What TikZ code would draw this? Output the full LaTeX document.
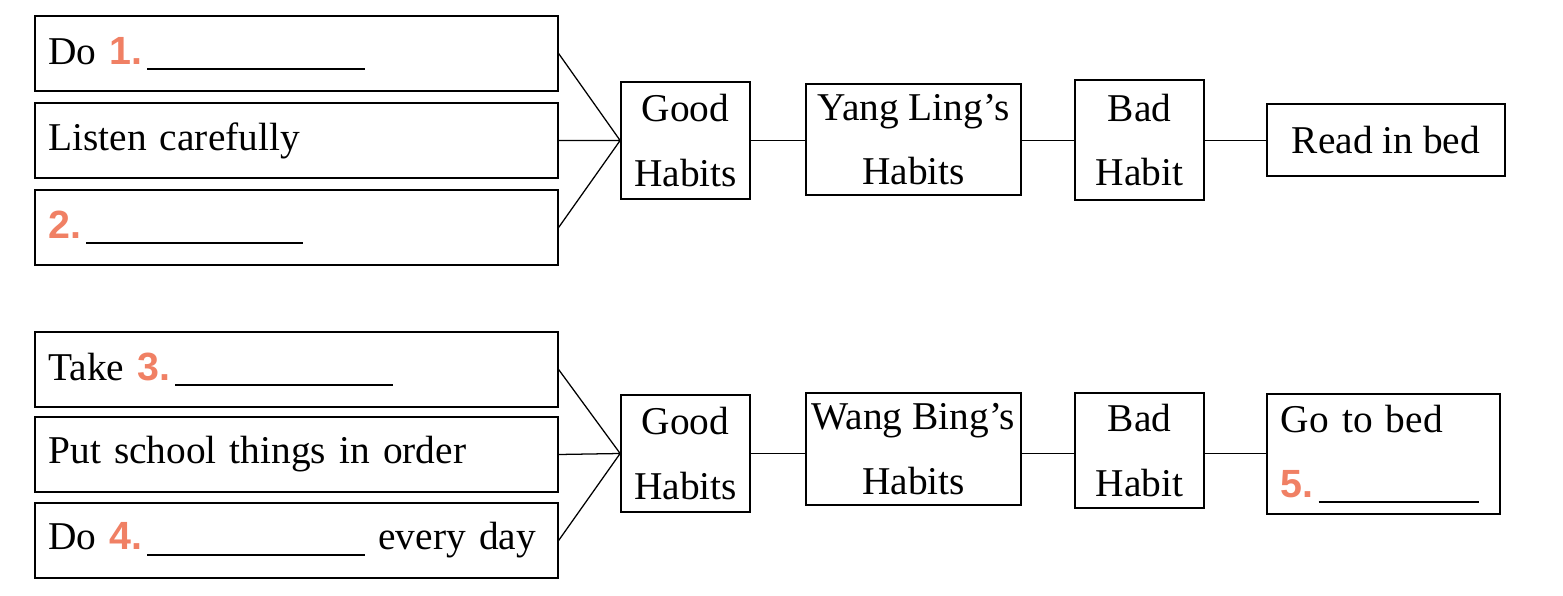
\documentclass[tikz,border=0pt]{standalone}
\usepackage{fontspec}
\setmainfont{Liberation Serif}
\newfontfamily\numfont{Liberation Sans}
\definecolor{numred}{RGB}{240,128,100}
\newcommand{\qnum}[1]{{\numfont\bfseries\color{numred}#1.}\hspace{0.12cm}}
\newcommand{\blank}[1]{\rule[-0.15cm]{#1}{0.045cm}}
\begin{document}
\begin{tikzpicture}[x=0.025cm,y=-0.025cm,
        font=\fontsize{28}{46}\selectfont,
        every node/.style={draw,line width=1.2pt,inner sep=0pt},
        habit/.style={align=left,inner xsep=0.33cm,text width=12.4cm,minimum height=1.875cm},
        key/.style={align=center,minimum width=3.225cm},
        line/.style={line width=0.9pt}]
    \useasboundingbox (0,0) rectangle (1563,596);
    % Yang Ling
    \node[habit] (a) at (296.5,53.5) {Do \qnum{1}\blank{5.45cm}};
    \node[habit] (b) at (296.5,140.5) {Listen carefully};
    \node[habit] (c) at (296.5,227.5) {\qnum{2}\blank{5.42cm}};
    \node[key,minimum height=2.925cm] (g) at (685.5,140.5) {Good\\Habits};
    \node[align=center,minimum width=5.375cm,minimum height=2.775cm] (y) at (913.5,139.5) {Yang Ling's\\Habits};
    \node[key,minimum height=3cm] (h) at (1139.5,140) {Bad\\Habit};
    \node[minimum width=5.95cm,minimum height=1.8cm] (r) at (1386,140) {Read in bed};
    \draw[line] (a.east) -- (g.west)
                (b.east) -- (g.west)
                (c.east) -- (g.west);
    \draw[line] (g.east) -- (g.east -| y.west)
                (g.east -| y.east) -- (g.east -| h.west)
                (g.east -| h.east) -- (g.east -| r.west);
    % Wang Bing
    \node[habit] (d) at (296.5,369.5) {Take \qnum{3}\blank{5.45cm}};
    \node[habit] (e) at (296.5,454.5) {Put school things in order};
    \node[habit] (f) at (296.5,540.5) {Do \qnum{4}\blank{5.45cm} every day};
    \node[key,minimum height=2.925cm] (k) at (685.5,453.5) {Good\\Habits};
    \node[align=center,minimum width=5.375cm,minimum height=2.8cm] (w) at (913.5,449) {Wang Bing's\\Habits};
    \node[key,minimum height=2.875cm] (m) at (1139.5,450.5) {Bad\\Habit};
    \node[align=left,inner xsep=0.35cm,text width=5.125cm,minimum height=3cm] (n) at (1383.5,454) {Go to bed\\\qnum{5}\blank{4cm}};
    \draw[line] (d.east) -- (k.west)
                (e.east) -- (k.west)
                (f.east) -- (k.west);
    \draw[line] (k.east) -- (k.east -| w.west)
                (k.east -| w.east) -- (k.east -| m.west)
                (k.east -| m.east) -- (k.east -| n.west);
\end{tikzpicture}
\end{document}
